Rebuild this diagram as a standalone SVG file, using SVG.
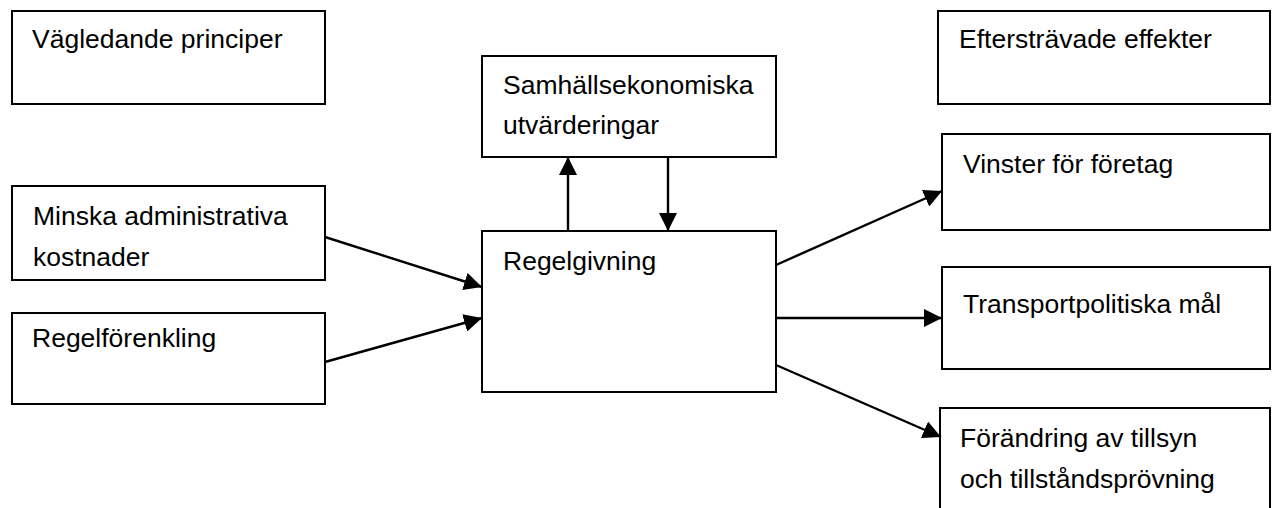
<svg xmlns="http://www.w3.org/2000/svg" width="1272" height="508" viewBox="0 0 1272 508">
  <style>
    .box { fill: #ffffff; stroke: #000000; stroke-width: 2; }
    .lbl { font-family: "Liberation Sans", Arial, sans-serif; font-size: 26.5px; fill: #000000; }
    .conn { stroke: #000000; stroke-width: 2.4; fill: none; }
  </style>
  <defs>
    <marker id="arrow" markerUnits="userSpaceOnUse" markerWidth="18" markerHeight="18" viewBox="0 0 17 17" refX="17" refY="8.5" orient="auto">
      <path d="M0,0 L17,8.5 L0,17 Z" fill="#000000"/>
    </marker>
  </defs>
  <rect width="1272" height="508" fill="#ffffff"/>

  <g id="vagledande">
    <rect class="box" x="12" y="11" width="313" height="93"/>
    <text class="lbl" x="32" y="48">Vägledande principer</text>
  </g>
  <g id="minska">
    <rect class="box" x="12" y="186" width="313" height="94"/>
    <text class="lbl" x="33" y="225">Minska administrativa</text>
    <text class="lbl" x="33" y="266">kostnader</text>
  </g>
  <g id="regelforenkling">
    <rect class="box" x="12" y="313" width="313" height="91"/>
    <text class="lbl" x="32" y="347">Regelförenkling</text>
  </g>
  <g id="samhall">
    <rect class="box" x="482" y="56" width="294" height="101"/>
    <text class="lbl" x="503" y="94">Samhällsekonomiska</text>
    <text class="lbl" x="503" y="134">utvärderingar</text>
  </g>
  <g id="regelgivning">
    <rect class="box" x="482" y="231" width="294" height="161"/>
    <text class="lbl" x="503" y="270">Regelgivning</text>
  </g>
  <g id="eftertravade">
    <rect class="box" x="938" y="11" width="332" height="93"/>
    <text class="lbl" x="959" y="48">Eftersträvade effekter</text>
  </g>
  <g id="vinster">
    <rect class="box" x="942" y="134" width="328" height="96"/>
    <text class="lbl" x="963" y="173">Vinster för företag</text>
  </g>
  <g id="transport">
    <rect class="box" x="942" y="267" width="328" height="102"/>
    <text class="lbl" x="963" y="313">Transportpolitiska mål</text>
  </g>
  <g id="forandring">
    <rect class="box" x="940" y="408" width="330" height="110"/>
    <text class="lbl" x="960" y="447">Förändring av tillsyn</text>
    <text class="lbl" x="960" y="488">och tillståndsprövning</text>
  </g>

  <g id="connectors">
    <line class="conn" x1="568" y1="231" x2="568" y2="157" marker-end="url(#arrow)"/>
    <line class="conn" x1="668" y1="157" x2="668" y2="231" marker-end="url(#arrow)"/>
    <line class="conn" x1="325" y1="237" x2="482" y2="287" marker-end="url(#arrow)"/>
    <line class="conn" x1="325" y1="362" x2="482" y2="318" marker-end="url(#arrow)"/>
    <line class="conn" x1="776" y1="265" x2="942" y2="191" marker-end="url(#arrow)"/>
    <line class="conn" x1="776" y1="318" x2="942" y2="318" marker-end="url(#arrow)"/>
    <line class="conn" x1="776" y1="365" x2="941" y2="437" marker-end="url(#arrow)"/>
  </g>
</svg>
